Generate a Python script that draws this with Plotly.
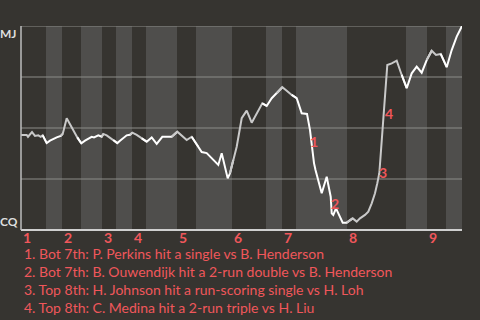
import plotly.graph_objects as go

# game progress (plate-appearance timeline units) and MJ win probability
progress = [0, 5.7, 7.0, 11.0, 14.0, 17.3, 19.7, 21.7, 25.7, 29.0, 32.3, 35.7, 39.7, 41.7,
            45.7, 49.0, 52.3, 56.3, 60.3, 64.0, 67.3, 70.7, 73.0, 77.3, 80.7, 82.3, 85.7,
            89.0, 92.3, 96.3, 99.0, 102.3, 105.7, 109.0, 111.3, 115.7, 120.7, 125.7, 130.7,
            135.7, 141.3, 150.7, 156.3, 165.7, 170.7, 177.3, 180.7, 185.7, 192.0, 197.3,
            200.7, 206.7, 209.0, 212.3, 215.7, 220.7, 225.7, 230.7, 235.7, 241.3, 245.7,
            250.7, 255.7, 261.3, 265.7, 270.7, 275.7, 280.7, 286.0, 289.0, 291.0, 293.0,
            294.5, 297.3, 300.7, 305.7, 307.3, 309.7, 310.7, 312.3, 315.0, 317.3, 319.7,
            321.7, 325.7, 331.7, 335.7, 339.0, 344.0, 347.3, 350.7, 354.0, 356.3, 358.3,
            359.3, 360.3, 361.7, 364.0, 365.7, 366.3, 370.7, 375.7, 380.7, 385.7, 390.7,
            395.7, 400.7, 405.7, 410.7, 415.0, 419.7, 425.7, 430.7, 435.7, 441.0]
win_prob = [0.466, 0.466, 0.457, 0.480, 0.461, 0.464, 0.457, 0.464, 0.426, 0.438, 0.448,
            0.454, 0.461, 0.471, 0.548, 0.518, 0.487, 0.454, 0.425, 0.438, 0.448, 0.457,
            0.454, 0.464, 0.457, 0.471, 0.464, 0.452, 0.441, 0.426, 0.438, 0.451, 0.464,
            0.467, 0.477, 0.466, 0.449, 0.433, 0.454, 0.422, 0.457, 0.457, 0.482, 0.441,
            0.457, 0.408, 0.382, 0.377, 0.346, 0.319, 0.376, 0.253, 0.278, 0.343, 0.408,
            0.548, 0.585, 0.526, 0.572, 0.621, 0.608, 0.646, 0.670, 0.700, 0.683, 0.662,
            0.646, 0.572, 0.569, 0.490, 0.392, 0.328, 0.294, 0.237, 0.180, 0.261, 0.221,
            0.163, 0.082, 0.074, 0.106, 0.082, 0.049, 0.036, 0.036, 0.057, 0.041, 0.057,
            0.074, 0.090, 0.131, 0.180, 0.229, 0.278, 0.343, 0.412, 0.490, 0.646, 0.735,
            0.809, 0.817, 0.830, 0.760, 0.695, 0.768, 0.801, 0.771, 0.833, 0.879, 0.858,
            0.863, 0.798, 0.882, 0.948, 1.0]

# half-inning boundaries (top/bottom alternating)
half_bounds = [0, 25, 41, 60, 81, 95, 111, 125, 156, 175, 211, 245, 261, 275, 326, 385,
               406, 425, 441]
innings = ["1", "2", "3", "4", "5", "6", "7", "8", "9"]

# key plays
play_ids = ["1", "2", "3", "4"]
play_x = [293, 314, 362, 368]
play_y = [0.436, 0.132, 0.284, 0.569]
play_text = [
    "1. Bot 7th: P. Perkins hit a single vs B. Henderson",
    "2. Bot 7th: B. Ouwendijk hit a 2-run double vs B. Henderson",
    "3. Top 8th: H. Johnson hit a run-scoring single vs H. Loh",
    "4. Top 8th: C. Medina hit a 2-run triple vs H. Liu",
]
team_top, team_bottom = "MJ", "CQ"

BG = "#363430"
BAND = "#4f4e4c"
RED = "#f0575b"
FONT = "Lato, Open Sans, sans-serif"

fig = go.Figure()

# line segments coloured by half inning
for h in range(len(half_bounds) - 1):
    a, b = half_bounds[h], half_bounds[h + 1]
    idx = [i for i, x in enumerate(progress) if a <= x <= b]
    if not idx:
        continue
    if idx[0] > 0:
        idx = [idx[0] - 1] + idx
    if idx[-1] < len(progress) - 1 and progress[idx[-1]] < b:
        idx = idx + [idx[-1] + 1]
    color = "#c9c9c9" if h % 2 == 0 else "#ffffff"
    fig.add_trace(go.Scatter(
        x=[progress[i] for i in idx], y=[win_prob[i] for i in idx],
        mode="lines", line=dict(color=color, width=2), hoverinfo="skip",
        showlegend=False))

shapes = []
for h in range(1, len(half_bounds) - 1, 2):
    shapes.append(dict(type="rect", xref="x", yref="paper", x0=half_bounds[h],
                       x1=half_bounds[h + 1], y0=0, y1=1, fillcolor=BAND,
                       line=dict(width=0), layer="below"))
for g in [0.25, 0.5, 0.75, 1.0]:
    shapes.append(dict(type="line", xref="paper", yref="y", x0=0, x1=1, y0=g, y1=g,
                       line=dict(color="#8c8b88", width=1.2), layer="below"))
shapes.append(dict(type="line", xref="paper", yref="paper", x0=0, x1=1, y0=0, y1=0,
                   line=dict(color="#cfcfcf", width=2), layer="above"))
shapes.append(dict(type="line", xref="paper", yref="paper", x0=0, x1=0, y0=0, y1=1,
                   line=dict(color="#bdbdbd", width=1.5), layer="above"))

ann = []
for k, name in enumerate(innings):
    ann.append(dict(x=half_bounds[2 * k], y=-0.039, xref="x", yref="paper", text="<b>%s</b>" % name,
                    showarrow=False, xanchor="left", yanchor="middle",
                    font=dict(color=RED, size=14, family=FONT)))
for pid, px, py in zip(play_ids, play_x, play_y):
    ann.append(dict(x=px, y=py, xref="x", yref="y", text="<b>%s</b>" % pid,
                    showarrow=False, xanchor="center", yanchor="middle",
                    font=dict(color=RED, size=14, family=FONT)))
for k, t in enumerate(play_text):
    ann.append(dict(x=0.002, y=-0.1176 - 0.0882 * k, xref="paper", yref="paper", text=t,
                    showarrow=False, xanchor="left", yanchor="middle",
                    font=dict(color=RED, size=14, family=FONT)))
ann.append(dict(x=0, y=0.961, xref="paper", yref="paper", text="<b>%s</b>" % team_top,
                showarrow=False, xanchor="right", yanchor="middle", xshift=-2,
                font=dict(color="#dedede", size=12, family=FONT)))
ann.append(dict(x=0, y=0.042, xref="paper", yref="paper", text="<b>%s</b>" % team_bottom,
                showarrow=False, xanchor="right", yanchor="middle", xshift=-1,
                font=dict(color="#dedede", size=12, family=FONT)))

fig.update_layout(
    width=480, height=320,
    margin=dict(l=21, r=18, t=26, b=90, pad=0),
    paper_bgcolor=BG, plot_bgcolor=BG,
    xaxis=dict(range=[0, 441], showgrid=False, zeroline=False, showticklabels=False,
               showline=False, fixedrange=True),
    yaxis=dict(range=[0, 1], showgrid=False, zeroline=False, showticklabels=False,
               showline=False, fixedrange=True),
    shapes=shapes, annotations=ann, showlegend=False,
)

fig.write_html("out.html", config={"displayModeBar": False})
